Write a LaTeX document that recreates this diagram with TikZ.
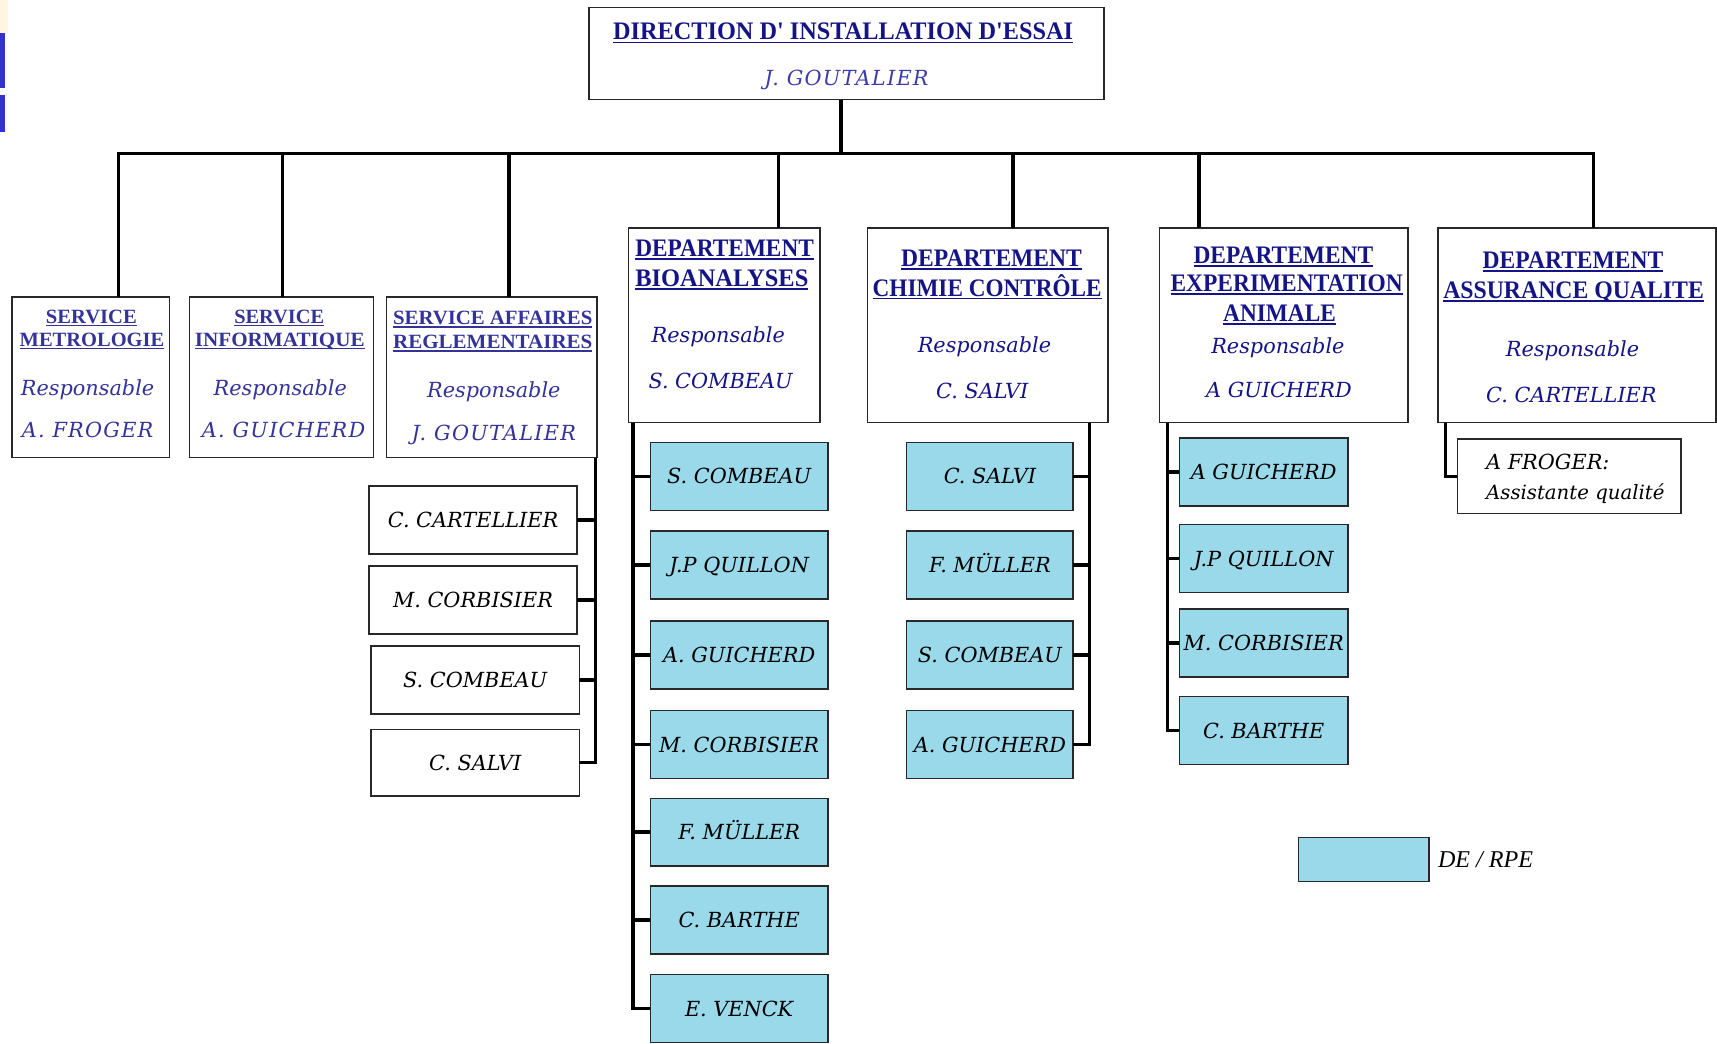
\documentclass[tikz,border=0pt]{standalone}
\usepackage{fontspec}
\usepackage{graphicx}
\setmainfont{Liberation Serif}
\newfontfamily\itfont{DejaVu Serif}
\newfontfamily\itsp{DejaVu Serif}[LetterSpace=6]
\definecolor{navyc}{RGB}{20,20,135}
\definecolor{svc}{RGB}{51,51,153}
\definecolor{topn}{RGB}{60,60,170}
\definecolor{lblue}{RGB}{153,217,234}
\definecolor{bordc}{RGB}{40,40,40}
\definecolor{creamc}{RGB}{255,245,224}
\definecolor{sideb}{RGB}{51,51,204}
\newcommand\ulx[1]{\setbox0=\hbox{#1}\rlap{\raisebox{-3pt}{\rule{\wd0}{1.6pt}}}\box0}
\newcommand\tl[2]{\resizebox{#1pt}{\height}{\ulx{#2}}}
\newcommand\bx[6]{\node[box,#6,minimum width=#4pt,minimum height=#5pt] (#1) at (#2,#3) {};}
\begin{document}
\begin{tikzpicture}[x=1pt,y=-1pt,
  box/.style={draw=bordc,line width=1.4pt,inner sep=0pt,outer sep=0pt,anchor=north west,fill=white},
  blue/.style={fill=lblue},
  conn/.style={draw=black,line width=3.2pt,line join=miter},
  ttl/.style={font=\bfseries\fontsize{23}{23}\selectfont,text=navyc,inner sep=0pt,text height=15pt,text depth=0pt},
  sttl/.style={font=\bfseries\fontsize{18.5}{18.5}\selectfont,text=svc,inner sep=0pt,text height=12.2pt,text depth=0pt},
  dit/.style={font=\itfont\itshape\fontsize{19}{19}\selectfont,text=navyc,inner sep=0pt,text height=13.9pt,text depth=0pt},
  srs/.style={font=\itfont\itshape\fontsize{19}{19}\selectfont,text=svc,inner sep=0pt,text height=13.9pt,text depth=0pt},
  sit/.style={font=\itsp\itshape\fontsize{19}{19}\selectfont,text=svc,inner sep=0pt,text height=13.9pt,text depth=0pt},
  nm/.style={font=\itfont\itshape\fontsize{19}{19}\selectfont,text=black,inner sep=0pt,text height=13.9pt,text depth=0pt}
]
\useasboundingbox (0,0) rectangle (1568,952.5);
% slide artefacts at the left edge
\fill[creamc] (0,0) rectangle (7,30);
\fill[sideb] (0,30) rectangle (4.5,80);
\fill[sideb] (0,87) rectangle (4.5,121);

% main boxes
\bx{top}{538}{7}{470}{84}{}
\bx{s1}{11}{271}{144}{147}{}
\bx{s2}{173}{271}{168}{147}{}
\bx{s3}{353}{271}{192}{147}{}
\bx{bio}{574}{208}{175}{178}{}
\bx{chi}{792}{208}{220}{178}{}
\bx{exp}{1059}{208}{227}{178}{}
\bx{as}{1313}{208}{254}{178}{}

% service affaires children
\bx{sc1}{337}{444}{190}{62}{}
\bx{sc2}{337}{517}{190}{62}{}
\bx{sc3}{339}{590}{190}{62}{}
\bx{sc4}{339}{666}{190}{61}{}
% bioanalyses children
\bx{bc1}{594}{404}{162}{62}{blue}
\bx{bc2}{594}{485}{162}{62}{blue}
\bx{bc3}{594}{567}{162}{62}{blue}
\bx{bc4}{594}{649}{162}{62}{blue}
\bx{bc5}{594}{729}{162}{62}{blue}
\bx{bc6}{594}{809}{162}{62}{blue}
\bx{bc7}{594}{890}{162}{62}{blue}
% chimie children
\bx{cc1}{828}{404}{152}{62}{blue}
\bx{cc2}{828}{485}{152}{62}{blue}
\bx{cc3}{828}{567}{152}{62}{blue}
\bx{cc4}{828}{649}{152}{62}{blue}
% experimentation children
\bx{ec1}{1077}{400}{154}{62}{blue}
\bx{ec2}{1077}{479}{154}{62}{blue}
\bx{ec3}{1077}{556}{154}{62}{blue}
\bx{ec4}{1077}{636}{154}{62}{blue}
% assurance child
\bx{af}{1331}{401}{204}{68}{}
% legend
\bx{leg}{1186}{765}{119}{40}{blue}

% top level connectors
\coordinate (bc) at (768,140);
\coordinate (bL) at (108,140);
\coordinate (bR) at (1455,140);
\draw[conn] (bc |- top.south) -- (bc);
\draw[conn] (bL |- s1.north) -- (bL) -- (bR) -- (bR |- as.north);
\foreach \xx/\n in {258/s2,465/s3,711/bio,925/chi,1095/exp}{
  \coordinate (v\n) at (\xx,140);
  \draw[conn] (v\n) -- (v\n |- \n.north);
}
% service affaires
\coordinate (s3v) at (544,418);
\draw[conn] (s3v) |- (sc4.east);
\foreach \i in {1,2,3}{\draw[conn] (sc\i.east) -- (sc\i.east -| s3v);}
% bioanalyses
\coordinate (biov) at (578,386);
\draw[conn] (biov) |- (bc7.west);
\foreach \i in {1,...,6}{\draw[conn] (bc\i.west) -- (bc\i.west -| biov);}
% chimie
\coordinate (chiv) at (995,386);
\draw[conn] (chiv) |- (cc4.east);
\foreach \i in {1,2,3}{\draw[conn] (cc\i.east) -- (cc\i.east -| chiv);}
% experimentation
\coordinate (expv) at (1066,386);
\draw[conn] (expv) |- (ec4.west);
\foreach \i in {1,2,3}{\draw[conn] (ec\i.west) -- (ec\i.west -| expv);}
% assurance
\coordinate (asv) at (1320,386);
\draw[conn] (asv) |- (af.west);

% texts of the direction
\node[ttl] (t0a) at (770,29) {\tl{420}{DIRECTION D\textquotesingle{} INSTALLATION D\textquotesingle ESSAI}};
\node[sit,text=topn] (t0b) at (773,71) {J. GOUTALIER};
% services
\node[sttl] (s1a) at (83.5,289) {\tl{83}{SERVICE}};
\node[sttl] (s1b) at (84,310) {\tl{132}{METROLOGIE}};
\node[srs] (s1c) at (80,354) {Responsable};
\node[sit] (s1d) at (80,393) {A. FROGER};
\node[sttl] (s2a) at (255,289) {\tl{82}{SERVICE}};
\node[sttl] (s2b) at (255.5,310) {\tl{155}{INFORMATIQUE}};
\node[srs] (s2c) at (256,354) {Responsable};
\node[sit] (s2d) at (259,393) {A. GUICHERD};
\node[sttl] (s3a) at (450,290) {\tl{182}{SERVICE AFFAIRES}};
\node[sttl] (s3b) at (450,312) {\tl{182}{REGLEMENTAIRES}};
\node[srs] (s3c) at (451,356) {Responsable};
\node[sit] (s3d) at (451,395) {J. GOUTALIER};
% departments
\node[ttl,anchor=west] (b1) at (580,227) {\tl{163}{DEPARTEMENT}};
\node[ttl,anchor=west] (b2) at (580,254) {\tl{158}{BIOANALYSES}};
\node[dit] (b3) at (656,306) {Responsable};
\node[dit] (b4) at (658,348) {S. COMBEAU};
\node[ttl] (c1) at (905.5,236) {\tl{165}{DEPARTEMENT}};
\node[ttl] (c2) at (901.5,263) {\tl{209}{CHIMIE CONTRÔLE}};
\node[dit] (c3) at (899,315) {Responsable};
\node[dit] (c4) at (897,357) {C. SALVI};
\node[ttl] (e1) at (1172,233) {\tl{164}{DEPARTEMENT}};
\node[ttl] (e2) at (1175,259) {\tl{212}{EXPERIMENTATION}};
\node[ttl] (e3) at (1168.5,286) {\tl{103}{ANIMALE}};
\node[dit] (e4) at (1167,316) {Responsable};
\node[dit] (e5) at (1168,356) {A GUICHERD};
\node[ttl] (a1) at (1436.5,238) {\tl{165}{DEPARTEMENT}};
\node[ttl] (a2) at (1437,265) {\tl{238}{ASSURANCE QUALITE}};
\node[dit] (a3) at (1436,319) {Responsable};
\node[dit] (a4) at (1435,361) {C. CARTELLIER};

% children names
\node[nm] (nsc1) at (sc1) {C. CARTELLIER};
\node[nm] (nsc2) at (sc2) {M. CORBISIER};
\node[nm] (nsc3) at (sc3) {S. COMBEAU};
\node[nm] (nsc4) at (sc4) {C. SALVI};
\node[nm] (nbc1) at (bc1) {S. COMBEAU};
\node[nm] (nbc2) at (bc2) {J.P QUILLON};
\node[nm] (nbc3) at (bc3) {A. GUICHERD};
\node[nm] (nbc4) at (bc4) {M. CORBISIER};
\node[nm] (nbc5) at (bc5) {F. MÜLLER};
\node[nm] (nbc6) at (bc6) {C. BARTHE};
\node[nm] (nbc7) at (bc7) {E. VENCK};
\node[nm] (ncc1) at (cc1) {C. SALVI};
\node[nm] (ncc2) at (cc2) {F. MÜLLER};
\node[nm] (ncc3) at (cc3) {S. COMBEAU};
\node[nm] (ncc4) at (cc4) {A. GUICHERD};
\node[nm] (nec1) at (ec1) {A GUICHERD};
\node[nm] (nec2) at (ec2) {J.P QUILLON};
\node[nm] (nec3) at (ec3) {M. CORBISIER};
\node[nm] (nec4) at (ec4) {C. BARTHE};
\node[nm,anchor=west] (naf1) at (1357,422) {A FROGER:};
\node[nm,anchor=west,font=\itfont\itshape\fontsize{18}{18}\selectfont] (naf2) at (1357,449) {Assistante qualité};
% legend
\node[anchor=west,inner sep=0pt,font=\itshape\fontsize{22}{22}\selectfont,text height=14.5pt,text depth=0pt] (legt) at (1313,785) {DE / RPE};
\end{tikzpicture}
\end{document}
